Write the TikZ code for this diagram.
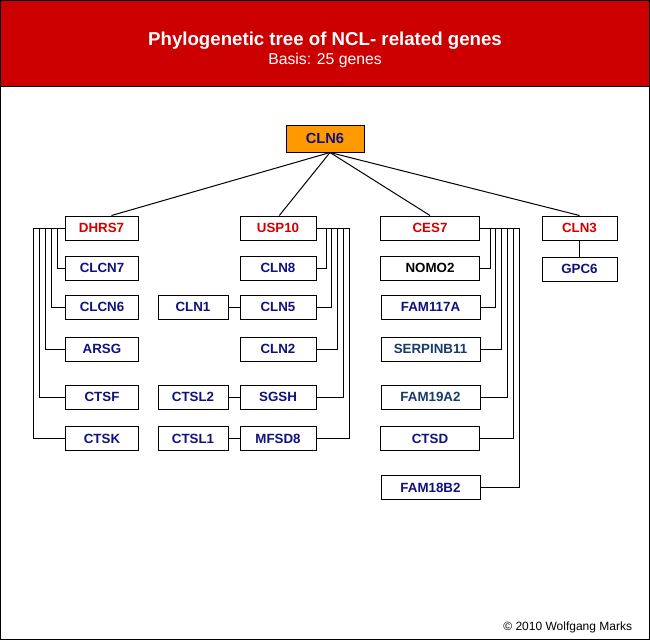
\documentclass[tikz,border=0pt]{standalone}
\usepackage{fontspec}
\setmainfont{Liberation Sans}
\usetikzlibrary{positioning}

\definecolor{headred}{HTML}{CC0000}
\definecolor{genenavy}{HTML}{10107F}
\definecolor{genesteel}{HTML}{1A3A6A}
\definecolor{genered}{HTML}{D00000}
\definecolor{rootorange}{HTML}{FF9900}

\begin{document}
\begin{tikzpicture}[x=0.75pt, y=-0.75pt, line width=0.75pt]
        \tikzset{gene/.style={draw, fill=white, inner sep=0pt, minimum width=#1, minimum height=18pt,
            text=genenavy, font=\bfseries\fontsize{10}{12}\selectfont},
            gene/.default=54.75pt}
        \tikzset{parent/.style={text=genered}}
        % Background and header
        \useasboundingbox (0,0) rectangle (650,640);
        \fill[white] (0,0) rectangle (650,640);
        \fill[headred] (0,0) rectangle (650,86);
        \draw (0,86) -- (650,86);
        \node[anchor=base, text=white, font=\bfseries\fontsize{14}{16}\selectfont] (title) at (325,45) {Phylogenetic tree of NCL- related genes};
        \node[anchor=base, text=white, font=\fontsize{11.8}{14}\selectfont] (basis) at (325,64) {Basis: 25 genes};

        % Root
        \node[gene=58.5pt, minimum height=20.25pt, fill=rootorange, font=\bfseries\fontsize{11}{13}\selectfont] (cln6) at (325,138.5) {CLN6};

        % DHRS7 group
        \node[gene, parent] (dhrs7) at (101.5,228) {DHRS7};
        \node[gene] (clcn7) at (102,268) {CLCN7};
        \node[gene] (clcn6) at (102,307) {CLCN6};
        \node[gene] (arsg) at (102,349) {ARSG};
        \node[gene] (ctsf) at (102,397) {CTSF};
        \node[gene] (ctsk) at (102,438.5) {CTSK};

        % USP10 group
        \node[gene=57pt, parent] (usp10) at (278,228) {USP10};
        \node[gene=57pt] (cln8) at (278,268) {CLN8};
        \node[gene=57pt] (cln5) at (278,307) {CLN5};
        \node[gene=57pt] (cln2) at (278,349) {CLN2};
        \node[gene=57pt] (sgsh) at (278,397) {SGSH};
        \node[gene=57pt] (mfsd8) at (278,438.5) {MFSD8};
        \node[gene=52.5pt] (cln1) at (193,307) {CLN1};
        \node[gene=52.5pt] (ctsl2) at (193,397) {CTSL2};
        \node[gene=52.5pt] (ctsl1) at (193,438.5) {CTSL1};

        % CES7 group
        \node[gene=74.25pt, parent] (ces7) at (430,228) {CES7};
        \node[gene=74.25pt, text=black] (nomo2) at (430,268) {NOMO2};
        \node[gene=74.25pt] (fam117a) at (430.5,307) {FAM117A};
        \node[gene=74.25pt, text=genesteel] (serpinb11) at (430.5,349) {SERPINB11};
        \node[gene=74.25pt, text=genesteel] (fam19a2) at (430.5,397) {FAM19A2};
        \node[gene=74.25pt] (ctsd) at (430,438.5) {CTSD};
        \node[gene=74.25pt] (fam18b2) at (430.5,487.5) {FAM18B2};

        % CLN3 group
        \node[gene=56.25pt, parent] (cln3) at (579.5,228) {CLN3};
        \node[gene=56.25pt] (gpc6) [below=12pt of cln3] {GPC6};

        \path ([xshift=3.75pt]cln6.south)
            edge ([xshift=7.5pt]dhrs7.north)
            edge ([xshift=1pt]usp10.north)
            edge (ces7.north)
            edge (cln3.north);

        \foreach \g/\d in {clcn7/7, clcn6/13, arsg/19, ctsf/25, ctsk/31}
            \draw (dhrs7.west) -- ++(-\d,0) |- (\g.west);
        \foreach \g/\d in {cln8/10, cln5/15, cln2/21, sgsh/27, mfsd8/33}
            \draw (usp10.east) -- ++(\d,0) |- (\g.east);
        \foreach \g/\d in {nomo2/10, fam117a/15, serpinb11/21, fam19a2/27, ctsd/33, fam18b2/39}
            \draw (ces7.east) -- ++(\d,0) |- (\g.east);

        \draw (cln1) -- (cln5);
        \draw (ctsl2) -- (sgsh);
        \draw (ctsl1) -- (mfsd8);
        \draw (cln3) -- (gpc6);

        \node[anchor=base east, font=\fontsize{9}{11}\selectfont] (credit) at (637,630) {© 2010 Wolfgang Marks};
        \draw (0.5,0.5) rectangle (649.5,639.5);
    \end{tikzpicture}
\end{document}
